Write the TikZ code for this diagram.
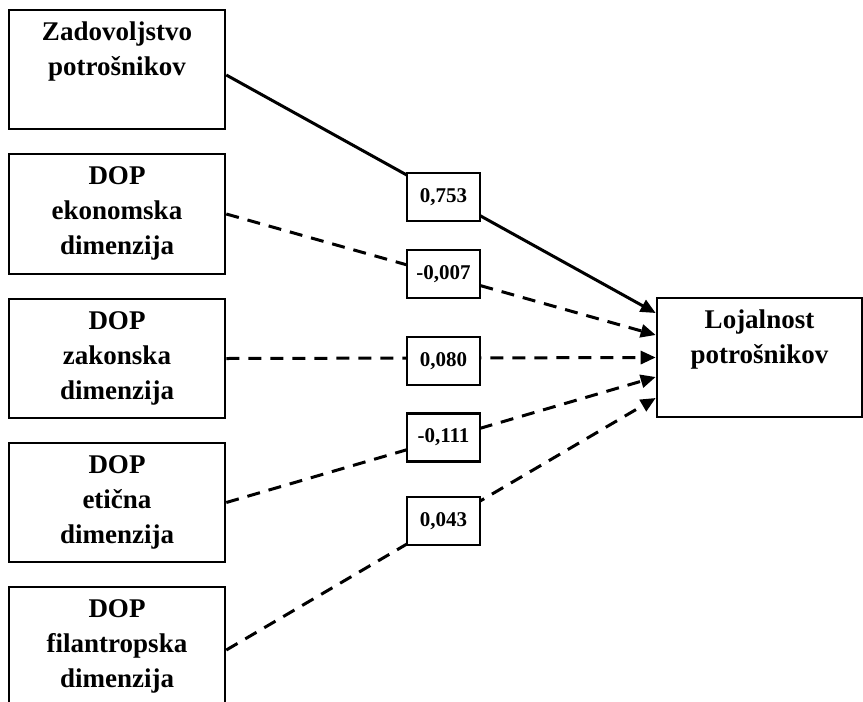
\documentclass[tikz,border=0pt]{standalone}
\usepackage{fontspec}
\setmainfont{Liberation Serif}
\usetikzlibrary{arrows.meta}
\newcommand{\boxtxt}[3]{\parbox[c][#2pt][t]{#1pt}{\centering\rule{0pt}{30pt}#3}}
\begin{document}
\begin{tikzpicture}[x=1pt,y=-1pt,
  srcbox/.style={draw, line width=2.6pt, inner sep=0pt, font=\fontsize{27}{35}\selectfont\bfseries},
  coef/.style={draw, line width=2.4pt, fill=white, inner sep=0pt, minimum width=73pt, minimum height=48pt, font=\fontsize{21}{25}\selectfont\bfseries},
  link/.style={line width=3pt, -{Triangle[length=15pt,width=13pt]}},
  dlink/.style={link, dash pattern=on 13pt off 9pt}]
\useasboundingbox (0,0) rectangle (863,702);
\clip (0,0) rectangle (863,702);
\node[srcbox] (zad) at (117,69.5) {\boxtxt{216}{119}{Zadovoljstvo\\potrošnikov}};
\node[srcbox] (eko) at (117,214) {\boxtxt{216}{120}{DOP\\ekonomska\\dimenzija}};
\node[srcbox] (zak) at (117,358.5) {\boxtxt{216}{119}{DOP\\zakonska\\dimenzija}};
\node[srcbox] (eti) at (117,502.5) {\boxtxt{216}{119}{DOP\\etična\\dimenzija}};
\node[srcbox] (fil) at (117,652) {\boxtxt{216}{130}{DOP\\filantropska\\dimenzija}};
\node[srcbox] (loj) at (759.5,357.5) {\boxtxt{205}{119}{Lojalnost\\potrošnikov}};
\draw[link] ([yshift=-5.5pt]zad.east) -- ([yshift=44.5pt]loj.west);
\draw[dlink] (eko.east) -- ([yshift=22.5pt]loj.west);
\draw[dlink] (zak.east) -- (loj.west);
\draw[dlink] (eti.east) -- ([yshift=-19.5pt]loj.west);
\draw[dlink] ([yshift=2pt]fil.east) -- ([yshift=-40.5pt]loj.west);
\node[coef] (c1) at (443.5,197) {0,753};
\node[coef] (c2) at (443.5,274) {-0,007};
\node[coef] (c3) at (443.5,361) {0,080};
\node[coef] (c4) at (443.5,437.5) {-0,111};
\node[coef] (c5) at (443.5,521) {0,043};
\end{tikzpicture}
\end{document}
